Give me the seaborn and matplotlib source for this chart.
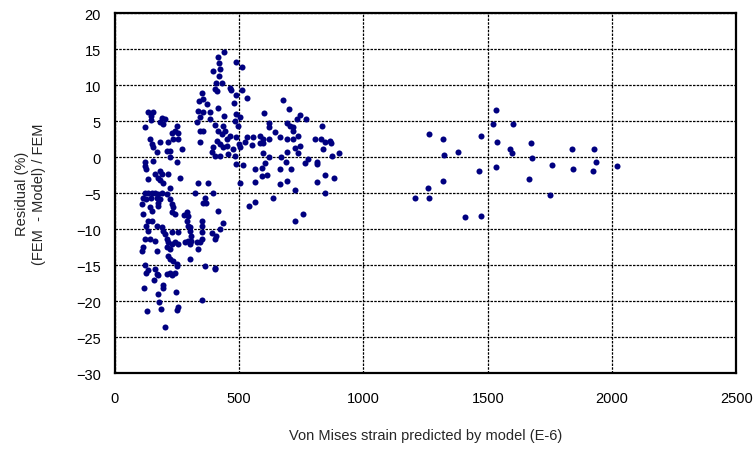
import numpy as np
import pandas as pd
import matplotlib
matplotlib.use("Agg")
import matplotlib.pyplot as plt
import seaborn as sns

# strain predicted by model (E-6) and residual (%)
# low strain group, residual above about -4.5 %
low_upper_strain = [134, 152, 145, 145, 121, 188, 201, 181, 192, 248, 241, 255, 228, 235,
                    141, 148, 181, 215, 154, 168, 208, 221, 268, 221, 248, 181, 188, 174,
                    181, 194, 215, 261, 123, 121, 127, 154, 161, 134, 221, 255]
low_upper_resid = [6.3, 6.3, 5.7, 5.2, 4.2, 5.5, 5.3, 4.9, 4.7, 4.3, 3.7, 3.4, 3.4, 2.5,
                   2.5, 1.8, 2.1, 2.1, 1.4, 0.7, 0.9, 0.9, 1.1, 0.0, -0.7, -1.9, -2.3, -2.8,
                   -3.2, -3.5, -2.3, -2.8, -0.6, -1.2, -1.6, -0.5, -2.3, -3.0, -4.2, 2.5]

# low strain group, residual below -4.5 %
low_lower_strain = [121, 134, 148, 161, 174, 188, 208, 114, 127, 145, 168, 181, 174, 221,
                    228, 107, 141, 148, 174, 235, 228, 241, 288, 295, 279, 114, 134, 148,
                    127, 134, 168, 188, 194, 201, 228, 255, 288, 295, 302, 308, 121, 141,
                    161, 208, 215, 228, 241, 255, 282, 295, 302, 114, 107, 168, 208, 221,
                    215, 221, 235, 248, 302, 121, 134, 161, 168, 208, 221, 241, 248,
                    322, 362, 396, 355, 366, 416, 540, 563, 349, 349, 349, 302, 433, 422,
                    389, 406, 402, 349, 342, 329, 308, 335, 362, 402,
                    127, 174, 228, 158, 194, 194, 118, 244, 174, 177, 351, 131, 185, 255,
                    248, 201, 402]
low_lower_resid = [-5.0, -5.0, -4.9, -5.0, -5.1, -4.9, -5.1, -5.6, -5.8, -5.7, -5.6, -5.8,
                   -6.3, -5.8, -6.5, -6.5, -6.9, -7.4, -6.8, -6.9, -7.6, -7.9, -7.6, -8.1,
                   -8.0, -7.9, -8.8, -8.8, -9.5, -10.2, -9.5, -9.7, -10.2, -10.7, -10.4,
                   -10.4, -8.8, -9.5, -10.2, -10.9, -11.3, -11.3, -11.6, -11.3, -11.8,
                   -12.0, -11.8, -12.0, -11.8, -11.6, -12.0, -12.5, -13.0, -13.0, -12.5,
                   -12.7, -13.7, -14.1, -14.4, -14.8, -14.1, -15.0, -15.7, -15.5, -16.2,
                   -16.2, -16.0, -16.0, -15.1,
                   -4.9, -5.6, -4.9, -6.3, -6.3, -7.5, -6.7, -6.2, -8.9, -9.5, -10.4, -9.7,
                   -9.1, -9.9, -10.5, -10.9, -11.3, -11.3, -11.8, -11.8, -11.6, -12.7,
                   -15.1, -15.4,
                   -16.1, -16.4, -16.3, -17.1, -17.8, -18.2, -18.1, -18.7, -19.0, -20.1,
                   -19.8, -21.4, -21.1, -20.8, -21.2, -23.6, -15.5]

# mid strain group
mid_strain = [438, 416, 420, 396, 422, 420, 406, 429, 402, 409, 487, 510, 463, 467, 510,
              530, 487, 480, 349, 355, 338, 369, 335, 329, 342, 355, 382, 416, 382, 402,
              438, 436, 416, 429, 443, 449, 463, 409, 422, 436, 449, 396, 389, 402, 422,
              456, 476, 483, 503, 523, 489, 500, 489, 483, 503, 496, 530, 557, 583, 342,
              342, 355, 335, 375, 489, 516, 563, 563, 503, 550,
              677, 701, 599, 744, 768, 731, 621, 621, 691, 704, 717, 717, 835, 644, 664,
              597, 597, 583, 621, 691, 717, 738, 805, 831, 845, 868, 865, 744, 724, 838,
              693, 597, 738, 902, 875, 621, 670, 778, 811, 764, 603, 688, 811, 664, 708,
              590, 590, 610, 664, 693, 811, 845, 882, 724, 845, 637, 758, 724]
mid_resid = [14.6, 14.0, 13.1, 12.0, 12.3, 11.3, 10.4, 10.4, 9.5, 9.2, 13.3, 12.6, 9.7,
             9.4, 9.3, 8.3, 8.6, 7.6, 8.9, 8.1, 7.9, 7.4, 6.5, 4.9, 5.6, 6.3, 6.3, 6.9,
             5.3, 4.5, 5.8, 4.4, 3.7, 3.2, 3.7, 2.5, 3.0, 2.3, 1.9, 1.4, 1.6, 1.4, 0.7,
             0.2, 0.2, 0.5, 1.2, 0.2, 1.4, 2.1, 2.8, 1.9, 6.0, 5.1, 5.6, 4.4, 2.9, 2.8,
             3.0, 3.7, 2.1, 3.7, -3.5, -3.6, -0.9, -1.1, -1.6, -3.4, -3.5, 1.7,
             8.0, 6.7, 6.1, 5.9, 5.3, 5.3, 4.8, 4.2, 4.8, 4.4, 4.2, 3.7, 4.3, 3.5, 2.8,
             2.5, 2.0, 2.0, 2.5, 2.5, 2.5, 3.0, 2.6, 2.6, 2.1, 2.0, 2.3, 1.6, 1.25, 1.2,
             0.7, 0.6, 0.6, 0.6, 0.2, 0.1, 0.0, -0.2, -0.6, -0.8, -0.8, -0.7, -0.9, -1.6,
             -1.6, -1.5, -2.6, -2.5, -3.7, -3.3, -3.4, -2.4, -2.8, -4.5, -4.9, -5.6, -7.8,
             -8.8]

# high strain group
high_strain = [1533, 1522, 1602, 1264, 1321, 1472, 1539, 1673, 1589, 1596, 1381, 1325,
               1679, 1759, 1533, 1466, 1321, 1665, 1260, 1207, 1264, 1750, 1408, 1472,
               1837, 1928, 1844, 1935, 1922, 2021]
high_resid = [6.6, 4.7, 4.6, 3.3, 2.6, 3.0, 2.2, 2.0, 1.15, 0.55, 0.8, 0.4, -0.1, -1.0,
              -1.4, -1.9, -3.3, -3.0, -4.2, -5.6, -5.6, -5.2, -8.3, -8.1, 1.1, 1.2, -1.6,
              -0.7, -1.95, -1.25]

df = pd.DataFrame({
    "strain": low_upper_strain + low_lower_strain + mid_strain + high_strain,
    "resid": low_upper_resid + low_lower_resid + mid_resid + high_resid,
})

sns.set_style("white")
plt.rcParams["font.family"] = ["Liberation Sans", "DejaVu Sans"]

fig = plt.figure(figsize=(7.56, 4.52), dpi=100)
ax = fig.add_axes([0.152, 0.172, 0.822, 0.796])

sns.scatterplot(data=df, x="strain", y="resid", ax=ax, color="#000080",
                edgecolor="#000080", s=19, linewidth=0, zorder=3)

ax.set_xlim(0, 2500)
ax.set_ylim(-30, 20)
ax.set_xticks(np.arange(0, 2501, 500))
ax.set_yticks(np.arange(-30, 21, 5))

ax.grid(True, color="black", linestyle=(0, (2, 1)), linewidth=0.9)
ax.set_axisbelow(True)
for sp in ax.spines.values():
    sp.set_color("black")
    sp.set_linewidth(1.6)

ax.tick_params(axis="both", direction="out", length=4, width=1.2, colors="black",
               labelsize=10.5, pad=6)
ax.tick_params(axis="x", pad=9)
ax.set_xlabel("Von Mises strain predicted by model (E-6)", fontsize=10.5, labelpad=16)
ax.set_ylabel("Residual (%)\n(FEM  - Model) / FEM", fontsize=10.5, labelpad=22)

fig.savefig("out.png", dpi=100)
